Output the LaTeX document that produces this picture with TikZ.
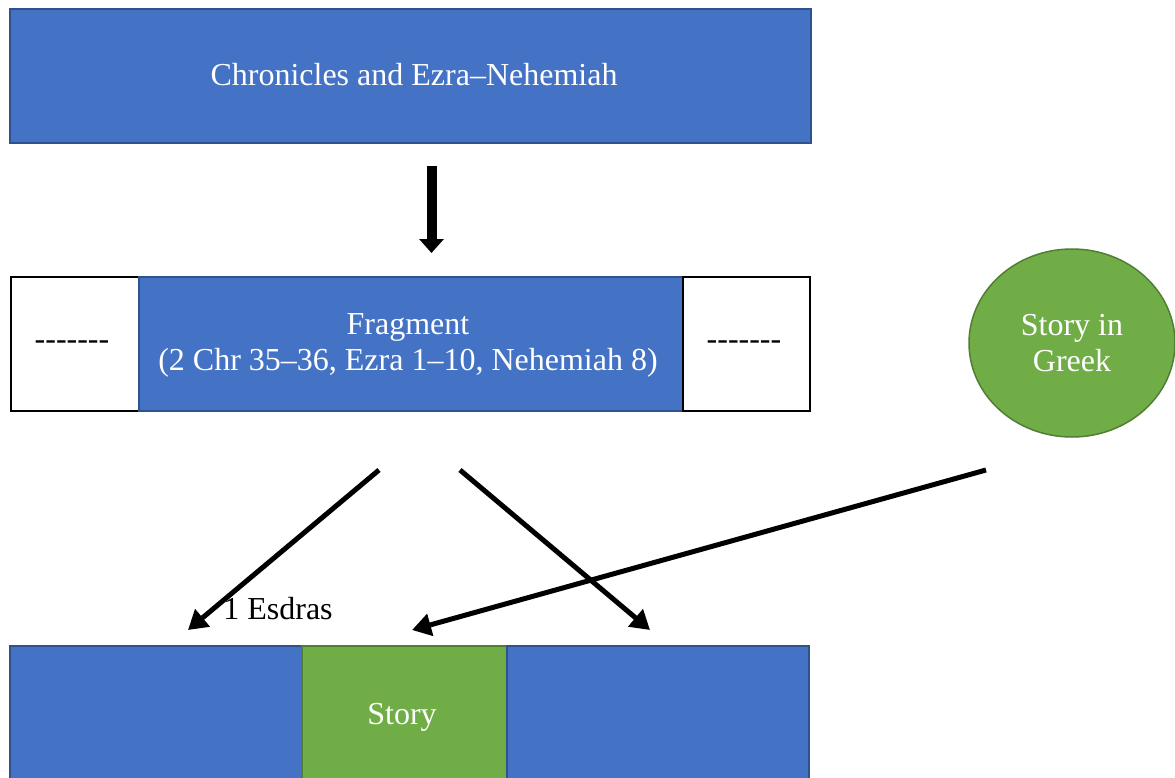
\documentclass[tikz,border=0pt]{standalone}
\usepackage{fontspec}
\setmainfont{Liberation Serif}
\usetikzlibrary{shapes.geometric,arrows.meta}
\definecolor{bluefill}{HTML}{4472C4}
\definecolor{blueline}{HTML}{2F528F}
\definecolor{greenfill}{HTML}{70AD47}
\definecolor{greenline}{HTML}{507E32}
\tikzset{
  txt/.style={font=\fontsize{32}{36}\selectfont, align=center, inner sep=0pt},
  wtxt/.style={txt, text=white},
  bluebox/.style={draw=blueline, line width=1.5pt, fill=bluefill},
  greenbox/.style={draw=greenline, line width=1.5pt, fill=greenfill},
  whitebox/.style={draw=black, line width=2pt, fill=white},
  greenell/.style={ellipse, draw=greenline, line width=1.5pt, fill=greenfill, wtxt},
  thinarrow/.style={line width=5pt, -{Triangle[length=19pt,width=22pt]}},
}
\begin{document}
\begin{tikzpicture}[x=1pt,y=-1pt]
\useasboundingbox (0,0) rectangle (1175,778);
\begin{scope}
\clip (0,0) rectangle (1175,778);
% top box
\draw[bluebox] (10,9) rectangle (811,143);
\node[wtxt] (top) at (414,75) {Chronicles and Ezra–Nehemiah};
% middle row
\draw[whitebox] (11,277) rectangle (139,411);
\node[txt] (dl) at (72,345) {-{}-{}-{}-{}-{}-{}-};
\draw[bluebox] (139,277) rectangle (683,411);
\node[wtxt] (frag) at (408,345.5) {Fragment\\(2 Chr 35–36, Ezra 1–10, Nehemiah 8)};
\draw[whitebox] (683,277) rectangle (810,411);
\node[txt] (dr) at (744,345) {-{}-{}-{}-{}-{}-{}-};
% ellipse
\node[greenell, minimum width=206pt, minimum height=188pt] (greek) at (1072,343) {Story in\\Greek};
% bottom row
\draw[bluebox] (10,646) rectangle (302,790);
\draw[greenbox] (302,646) rectangle (507,790);
\draw[bluebox] (507,646) rectangle (809,790);
\node[wtxt] (story) at (402,717) {Story};
\node[txt] (esdras) at (278,609) {1 Esdras};
\end{scope}
% arrows
\coordinate (d0) at (431.5,166);
\coordinate (d1) at (431.5,253);
\draw[line width=10pt, -{Triangle[length=14pt,width=24pt]}] (d0) -- (d1);
\coordinate (a0) at (379,470);
\coordinate (a1) at (188,630);
\coordinate (b0) at (460,470);
\coordinate (b1) at (650,630);
\coordinate (c0) at (986,470);
\coordinate (c1) at (412,630);
\draw[thinarrow] (a0) -- (a1);
\draw[thinarrow] (b0) -- (b1);
\draw[thinarrow] (c0) -- (c1);
\end{tikzpicture}
\end{document}
